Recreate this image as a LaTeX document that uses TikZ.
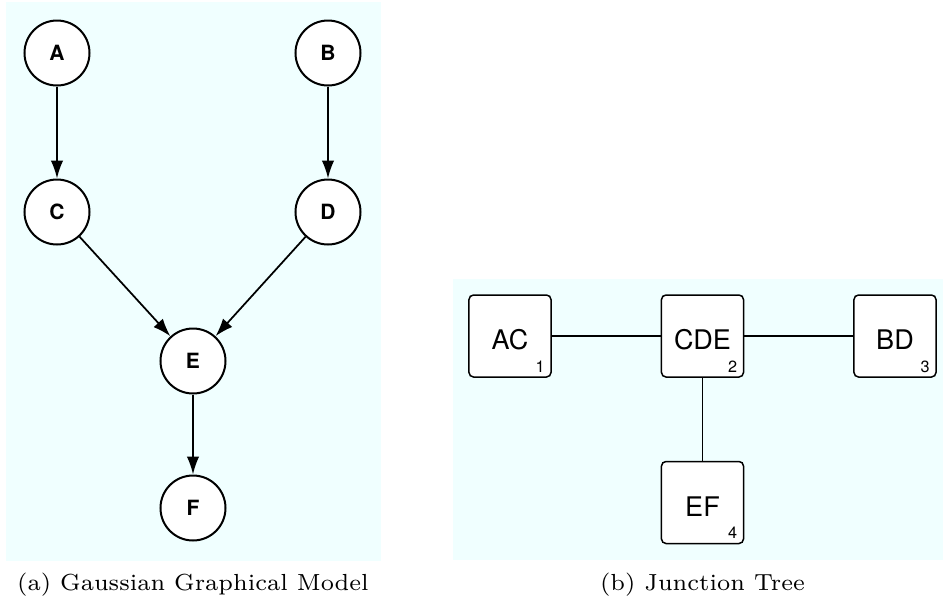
\documentclass[tikz,border=0pt]{standalone}
\usepackage{fontspec}
\newfontfamily\heros{TeX Gyre Heros}
\usetikzlibrary{arrows.meta}
\definecolor{panelbg}{HTML}{F0FFFF}
\begin{document}
\begin{tikzpicture}[x=0.4pt,y=-0.4pt,
  rv/.style={circle,draw,line width=0.8pt,fill=white,minimum size=26pt,inner sep=0pt,
    font=\heros\bfseries\fontsize{8.4}{9}\selectfont},
  clique/.style={rectangle,rounded corners=1.8pt,draw,line width=0.6pt,fill=white,
    minimum size=32.8pt,inner sep=0pt,text height=11pt,text depth=0pt,
    font=\heros\fontsize{10.8}{12}\selectfont},
  idx/.style={inner sep=0pt,anchor=south east,font=\heros\fontsize{6.5}{7}\selectfont},
  depend/.style={line width=0.7pt,-{Latex[length=7.2pt,width=5pt]}},
  treelink/.style={line width=0.6pt},
  subcap/.style={inner sep=0pt,scale=1.33,font=\fontsize{7}{8}\selectfont}]
  \useasboundingbox (0,0) rectangle (943,602);
  \fill[panelbg] (6,2) rectangle (381,561);
  \fill[panelbg] (453,279) rectangle (943,560);
  \node[rv] (A) at (57,53) {A};
  \node[rv] (B) at (328,53) {B};
  \node[rv] (C) at (57,212) {C};
  \node[rv] (D) at (328,212) {D};
  \node[rv] (E) at (193,361) {E};
  \node[rv] (F) at (193,508) {F};
  \draw[depend] (A)--(C);
  \draw[depend] (B)--(D);
  \draw[depend] (C)--(E);
  \draw[depend] (D)--(E);
  \draw[depend] (E)--(F);
  \node[clique] (AC) at (510,336) {AC};
  \node[clique] (CDE) at (702.5,336) {CDE};
  \node[clique] (BD) at (895,336) {BD};
  \node[clique] (EF) at (702.5,502.5) {EF};
  \node[idx] (n1) at ([xshift=-2.6pt,yshift=2pt]AC.south east) {1};
  \node[idx] (n2) at ([xshift=-2.6pt,yshift=2pt]CDE.south east) {2};
  \node[idx] (n3) at ([xshift=-2.6pt,yshift=2pt]BD.south east) {3};
  \node[idx] (n4) at ([xshift=-2.6pt,yshift=2pt]EF.south east) {4};
  \draw[treelink] (AC)--(CDE);
  \draw[treelink] (CDE)--(BD);
  \draw[treelink] (CDE)--(EF);
  \node[subcap] (capa) at (193,585) {(a) Gaussian Graphical Model};
  \node[subcap] (capb) at (702.5,585) {(b) Junction Tree};
\end{tikzpicture}
\end{document}
